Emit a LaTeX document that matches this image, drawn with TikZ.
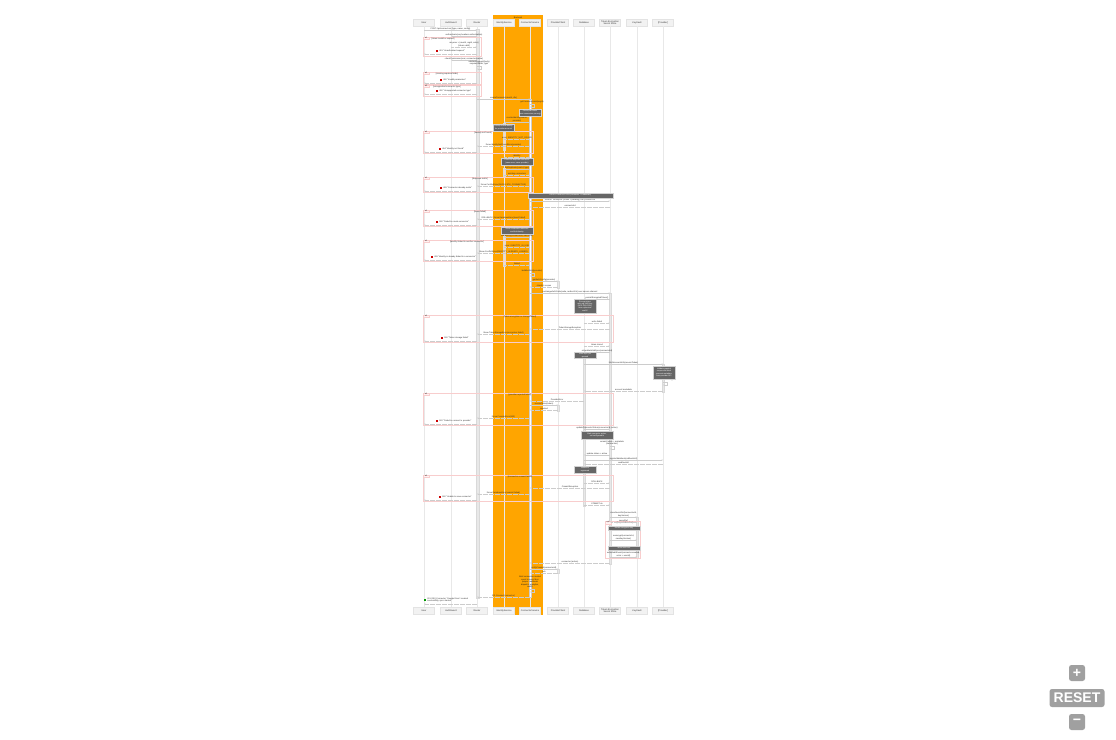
\documentclass[tikz,border=0pt]{standalone}
\usepackage{fontspec}
\setmainfont{Liberation Sans}
\usetikzlibrary{positioning, arrows.meta}
\definecolor{BeOrange}{RGB}{255,165,0}
\definecolor{NoteGray}{RGB}{102,102,102}
\definecolor{FramePink}{RGB}{248,205,205}
\definecolor{BtnGray}{RGB}{160,160,160}

\begin{document}
\begin{tikzpicture}[x=1pt, y=-1pt,
      actor/.style={rectangle, fill=gray!10, draw=gray!22, line width=0.25pt,
                    minimum width=21pt, minimum height=7pt, inner sep=0.2pt,
                    align=center, font=\fontsize{2.3}{2.6}\selectfont, text=gray!40!black},
      life/.style={draw=gray!18, line width=0.35pt},
      bar/.style={fill=gray!18, draw=gray!30, line width=0.2pt},
      msg/.style={draw=gray!40, line width=0.25pt, -{Stealth[length=1.4pt, width=1.2pt]}},
      rep/.style={msg, dash pattern=on 0.6pt off 0.6pt},
      lbl/.style={font=\fontsize{2.1}{2.5}\selectfont, text=gray!35!black,
                  inner sep=0.4pt, align=center},
      note/.style={rectangle, fill=NoteGray, draw=gray!35, line width=0.4pt, text=white,
                   inner sep=0.3pt, align=center, font=\fontsize{1.9}{2.3}\selectfont},
      frame/.style={draw=FramePink, line width=0.3pt},
      tag/.style={rectangle, fill=red!5, draw=FramePink, line width=0.25pt, inner sep=0.4pt,
                  minimum width=6pt, font=\fontsize{2}{2.4}\selectfont, text=gray!40!black},
      errsq/.style={rectangle, fill=red!80!black, minimum size=2.2pt, inner sep=0pt},
      oksq/.style={rectangle, fill=green!60!black, minimum size=2.2pt, inner sep=0pt},
      btn/.style={rectangle, rounded corners=2.5pt, fill=BtnGray, text=white,
                  font=\fontsize{14}{15}\selectfont\bfseries, inner sep=0pt}
    ]
    \useasboundingbox (0,0) rectangle (1116,739);

    % Backend group
    \fill[BeOrange] (493,15) rectangle (543,615);
    \node[lbl, text=gray!30!black] (grp) at (518,17.3) {Backend};

    % Participants and lifelines
    \foreach \n/\x/\lab in {U/424/User, A/451/AuthGuard, R/477/Router,
        I/504/IdentityService, C/530/ConnectorService, P/558/ProviderClient,
        D/584/Database, T/610/{Token Encryption\\Secret Store}, K/637/KeyVault,
        X/663/[Provider]} {
      \node[actor] (h\n) at (\x,22.5) {\lab};
      \node[actor] (f\n) at (\x,610.5) {\lab};
      \draw[life] (h\n.south) -- (f\n.north);
    }

    % Activation bars
    \draw[bar] (475.8,29) rectangle (479,598);
    \draw[fill=white, draw=gray!40, line width=0.2pt] (528.7,99) rectangle (531.5,597);
    \draw[fill=orange!30!white, draw=gray!30, line width=0.2pt] (503,123) rectangle (505.5,150);
    \draw[fill=orange!30!white, draw=gray!30, line width=0.2pt] (503,168) rectangle (505.5,176);
    \draw[fill=orange!30!white, draw=gray!30, line width=0.2pt] (503,236) rectangle (505.5,266);
    \draw[bar] (582.8,352) rectangle (585.4,506);
    \draw[bar] (608.8,293) rectangle (611.4,564);
    \draw[bar] (661.8,364) rectangle (664.4,392);
    \draw[bar] (635.8,517) rectangle (638.4,558);
    \draw[bar] (556.8,281) rectangle (559.4,288);
    \draw[bar] (556.8,405) rectangle (559.4,411);
    \draw[bar] (556.8,569) rectangle (559.4,573);

    % Frames (alt / opt)
    \foreach \ya/\yb/\xl/\xr/\kind/\cond/\cx in {
        37/56/423/481/alt/{[token invalid or expired]}/443,
        72/84/423/481/alt/{[missing required fields]}/447,
        85/96/423/481/alt/{[unsupported connector type]}/447,
        131/153/423/533/alt/{[identity not found]}/483,
        177/192/423/533/alt/{[duplicate exists]}/480,
        210/226/423/533/alt/{[insert failed]}/480,
        240/261/423/533/alt/{[identity linked to another connector]}/467,
        315/342/423/613/alt/{[token encryption or storage failed]}/520,
        393/425/423/613/alt/{[provider rejected token]}/520,
        475/501/423/613/alt/{[transaction commit failed]}/520,
        521/558/605/640/opt/{[key rotation due]}/625} {
      \draw[frame] (\xl,\ya) rectangle (\xr,\yb);
      \node[tag, anchor=north west] (tg\ya) at (\xl,\ya) {\kind};
      \node[lbl, anchor=north] (cd\ya) at (\cx,\ya+0.4) {\cond};
    }

    % Calls
    \foreach \yy/\src/\dst/\lab in {
        30/U/R/{POST /api/connectors \{type, name, config\}},
        36/R/A/{authenticate(req.headers.authorization)},
        60/R/A/{checkPermission(user, connector:create)},
        99/R/C/{createConnector(userId, dto)},
        122/C/I/{resolveIdentity(userId,\\provider)},
        169/C/I/{findDuplicate(userId, type)},
        201/C/T/{INSERT connector (status = pending) RETURNING id},
        237/C/I/{linkIdentity(connectorId, identityId)},
        281/C/P/{getAuthConfig(provider)},
        293/C/T/{exchangeAuthCode(code, redirectUri) over secure channel},
        299/T/D/{persistEncryptedToken()},
        352/T/D/{scheduleInitialSync(connectorId)},
        364/D/X/{fetchAccountInfo(accessToken)},
        405/C/P/{revokeToken(token)},
        429/D/T/{updateConnectorStatus(connectorId, active)},
        455/T/D/{update status = active},
        460/D/X/{registerWebhook(callbackUrl)},
        517/T/K/{storeSecretRef(connectorId,\\keyVersion)},
        540/T/K/{reencrypt(connectorId,\\newKeyVersion)},
        557/T/K/{writeAuditEvent(connector.created,\\actor = userId)},
        569/C/P/{notifyCreated(connectorId)}} {
      \draw[msg] (h\src |- 0,\yy) -- node[lbl, above] {\lab} (h\dst |- 0,\yy);
    }

    % Replies
    \foreach \yy/\src/\dst/\lab in {
        47/A/R/{req.user = \{userId, orgId, roles\}\\(token valid)},
        54/R/U/{}, 83/R/U/{}, 94/R/U/{},
        139/I/C/{error: IDENTITY\_NOT\_FOUND},
        146/C/R/{throw IdentityNotFoundError(provider)},
        152/R/U/{},
        157/I/C/{identity},
        175/I/C/{existing connectors},
        186/C/R/{throw ConflictError(DUPLICATE\_CONNECTOR)},
        191/R/U/{},
        207/T/C/{connectorId},
        219/C/R/{ROLLBACK; throw DatabaseError(insert failed)},
        225/R/U/{},
        247/I/C/{error: IDENTITY\_IN\_USE},
        253/C/R/{throw ConflictError(IDENTITY\_ALREADY\_LINKED)},
        260/R/U/{},
        265/I/C/{linked},
        287/P/C/{clientId, scopes},
        323/D/T/{write failed},
        329/T/C/{TokenStorageException},
        334/C/R/{throw TokenStorageError(encryption failed)},
        341/R/U/{},
        346/D/T/{token stored},
        391/X/D/{account metadata},
        401/D/C/{ProviderError},
        410/P/C/{revoked},
        418/C/R/{throw ProviderError(502)},
        424/R/U/{},
        464/X/D/{webhookId},
        483/D/T/{ROLLBACK},
        488/T/C/{CommitException},
        494/C/R/{throw DatabaseError(commit failed)},
        500/R/U/{},
        505/D/T/{COMMIT ok},
        522/K/T/{secretRef},
        563/T/C/{connector (active)},
        573/P/C/{ack},
        597/C/R/{201 Created \{connector\}},
        604/R/U/{}} {
      \draw[rep] (h\src |- 0,\yy) -- node[lbl, above] {\lab} (h\dst |- 0,\yy);
    }

    % Self calls
    \foreach \yy/\src/\lab in {
        66/R/{validateRequest(body)\\required fields, type},
        104/C/{getConnectorLimit(orgId)},
        273/C/{buildAuthUrl(provider)},
        382/X/{checkRateLimit()},
        446/T/{commit token + metadata\\(transaction)},
        589/C/{}} {
      \draw[msg] (h\src |- 0,\yy) -- ++(4,0) -- ++(0,3) -- ++(-4,0);
      \node[lbl, above] (sc\yy) at ([xshift=2pt]h\src |- 0,\yy) {\lab};
    }

    % Notes
    \foreach \x/\y/\w/\h/\lab in {
        530/112.5/22/7/{Check plan limits\\(max connectors per org)},
        503.5/127.5/21/7/{Lookup linked identity\\for provider account},
        517/161.5/32/7/{Check for duplicate connector\\(same user, same provider)},
        570.5/195.5/85/4.5/{BEGIN TRANSACTION (connector + credentials)},
        517/230.5/32/7/{Store credentials reference\\and link identity},
        585/306/22/14/{Encrypt token\\with org KMS key\\(AES-256-GCM),\\store ciphertext\\and IV},
        585/355.5/22/6/{Initial sync job\\queued},
        664/372.5/22/13/{Validate granted\\scopes and fetch\\account metadata\\from provider API},
        597/435/32/8/{Mark connector active,\\set lastSyncedAt},
        585/469.5/22/7/{Webhook\\registered},
        624/528/32/4.5/{Rotate encryption key},
        624/548/32/4.5/{Write audit trail}} {
      \node[note, minimum width=\w, minimum height=\h] (nt\y) at (\x,\y) {\lab};
    }

    % Event emission text
    \node[lbl, text=gray!25!black] (evt) at (530,582)
        {Emit connector.created\\event to event bus\\(async: webhook\\dispatch, analytics,\\audit)};

    % Error responses
    \foreach \yy/\x/\lab in {
        51/437/{401 "Unauthorized request"},
        80/441/{400 "Invalid parameters"},
        91/437/{400 "Unsupported connector type"},
        149/440/{404 "Identity not found"},
        188/441/{409 "Connector already exists"},
        222/437/{500 "Failed to create connector"},
        257/432/{409 "Identity is already linked to a connector"},
        338/442/{500 "Token storage failed"},
        421/437/{502 "Failed to connect to provider"},
        497/440/{500 "Unable to save connector"}} {
      \node[errsq] (err\yy) at (\x,\yy) {};
      \node[lbl, right=0.4pt of err\yy] {\lab};
    }

    % Success response
    \node[oksq] (ok) at (425,600) {};
    \node[lbl, right=0.4pt of ok, align=left] {201 (OK) Connector "Google Drive" created\\successfully, sync started};

    % Zoom controls
    \node[btn, minimum width=16pt, minimum height=16pt] (zin) at (1077,673) {+};
    \node[btn, minimum width=55pt, minimum height=18pt] (rst) at (1077,698) {RESET};
    \node[btn, minimum width=16pt, minimum height=16pt] (zout) at (1077,722) {−};
  \end{tikzpicture}
\end{document}
